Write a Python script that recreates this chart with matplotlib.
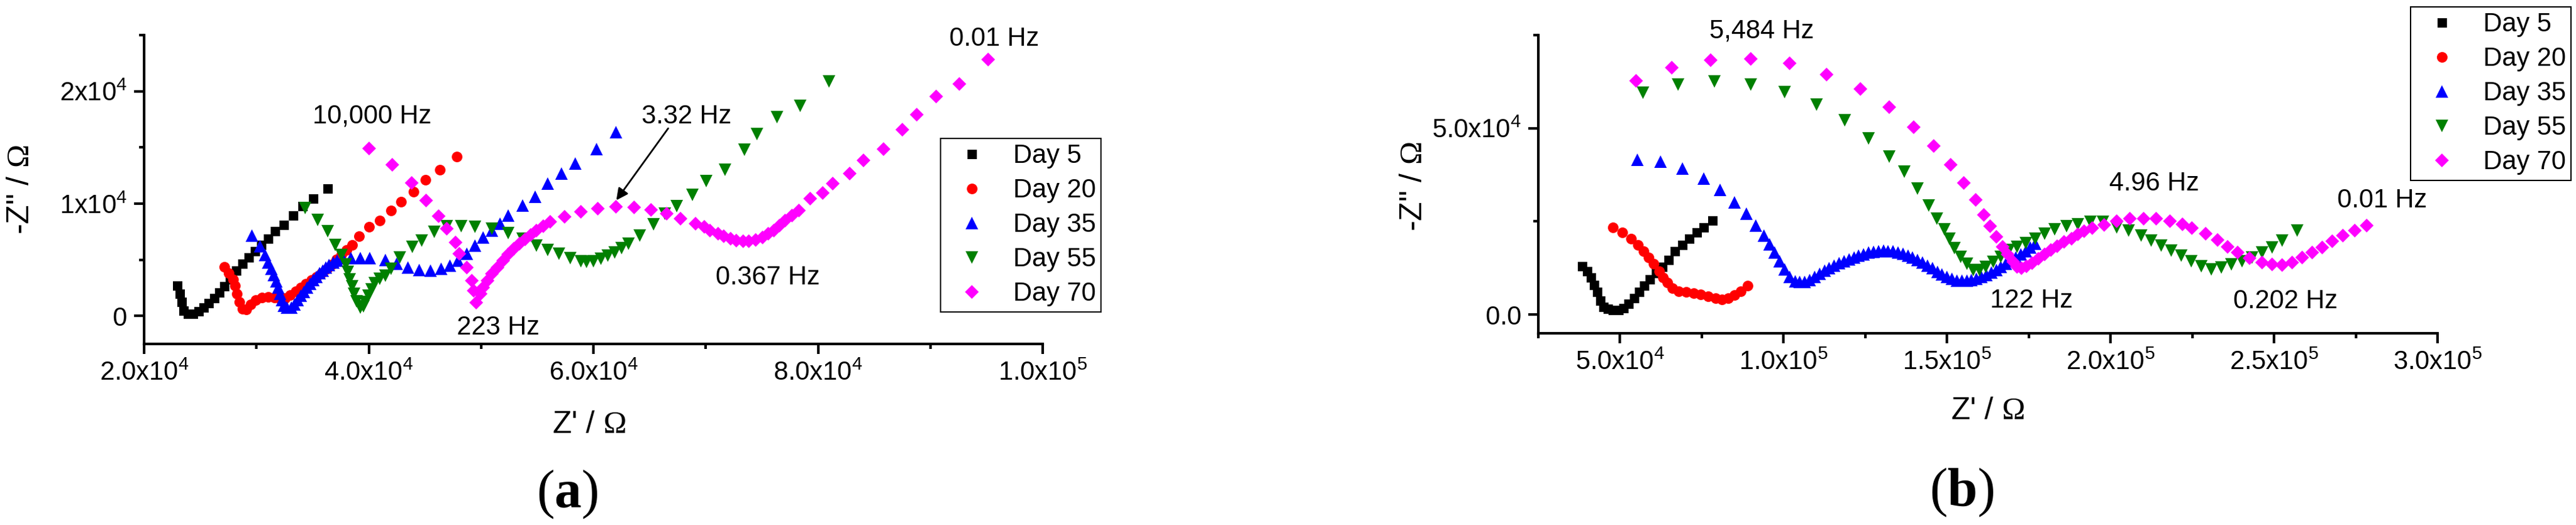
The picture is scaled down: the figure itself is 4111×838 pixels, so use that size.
import matplotlib
matplotlib.use('Agg')
import matplotlib.pyplot as plt
from matplotlib.ticker import MultipleLocator

plt.rcParams['font.family'] = ['Liberation Sans', 'DejaVu Sans']
plt.rcParams['mathtext.fontset'] = 'custom'
plt.rcParams['mathtext.rm'] = 'Liberation Sans'
plt.rcParams['mathtext.sf'] = 'Liberation Serif'
plt.rcParams['mathtext.bf'] = 'Liberation Serif:bold'

# ---------------- data, panel (a) ----------------
day5_a_x = [22940, 23160, 23350, 23530, 23900, 24370, 24840, 25300, 25760, 26230, 26690, 27160, 27630,
            28180, 28740, 29300, 29860, 30420, 31060, 31670, 32420, 33300, 34130, 35060, 36330]
day5_a_y = [2660, 1955, 1210, 465, 185, 185, 375, 745, 1117, 1580, 2050, 2610, 3260,
            4000, 4650, 5210, 5770, 6330, 6890, 7540, 8100, 8940, 9780, 10430, 11360]

day20_a_x = [27160, 27530, 27900, 28090, 28270, 28460, 28740, 29110, 29480, 29950, 30510, 31060, 31620,
             32090, 32550, 33020, 33480, 33950, 34410, 34880, 35340, 35810, 36270, 36740, 37140, 37570,
             38040, 38500, 39110, 40000, 40990, 41990, 42890, 43980, 45070, 46320, 47860]
day20_a_y = [4375, 3820, 3260, 2700, 1955, 1210, 650, 560, 1020, 1400, 1620, 1680, 1620,
             1490, 1580, 1860, 2180, 2510, 2850, 3170, 3480, 3820, 4190, 4560, 5030, 5490,
             5870, 6330, 7080, 7910, 8510, 9400, 10150, 11040, 12090, 12990, 14180]

day35_a_x = [29610, 30320, 30780, 31060, 31310, 31530, 31750, 31940, 32120, 32270, 32460, 32730, 33110,
             33390, 33670, 33950, 34230, 34510, 34780, 35060, 35340, 35620, 35900, 36180, 36460, 36830,
             37200, 37670, 38410, 39250, 40080, 41490, 42490, 43480, 44480, 45470, 46470, 47210, 47960,
             48710, 49450, 50200, 50940, 51690, 52440, 53680, 54830, 55920, 57160, 58410, 60300, 61990]
day35_a_y = [7170, 6200, 5400, 4750, 4190, 3630, 3070, 2510, 1955, 1400, 930, 745, 745,
             1020, 1400, 1770, 2140, 2510, 2850, 3170, 3480, 3780, 4030, 4280, 4530, 4750,
             4930, 5120, 5120, 5120, 5120, 4980, 4630, 4330, 4090, 4030, 4180, 4480, 4930,
             5520, 6270, 7010, 7610, 8210, 8960, 9850, 10600, 11790, 12690, 13580, 14840, 16360]

day55_a_x = [34320, 35440, 36330, 37020, 37570, 37950, 38130, 38320, 38500, 38690, 38930, 39250, 39530,
             39710, 39990, 40270, 40550, 40990, 41490, 41990, 42740, 43880, 44730, 45820, 46970, 48210,
             49450, 50950, 52440, 53680, 54930, 55920, 56920, 57910, 58910, 59400, 60000, 60650, 61270,
             61890, 62500, 63130, 64130, 65370, 66370, 67420, 68820, 70030, 71700, 73470, 74580, 76320,
             78410, 80950]
day55_a_y = [9590, 8570, 7540, 6330, 5400, 4560, 3910, 3260, 2610, 1955, 1300, 745, 840,
             1210, 1770, 2330, 2890, 3300, 3580, 4180, 5220, 6120, 6720, 7460, 7970, 7970,
             7910, 7760, 7400, 6870, 6270, 5880, 5520, 5160, 4870, 4780, 4850, 5070, 5370,
             5670, 6040, 6420, 7160, 8150, 9100, 9780, 10800, 12010, 13030, 14810, 16200, 17700,
             18720, 20900]

day70_a_x = [40000, 42090, 43830, 45120, 46220, 46960, 47710, 48060, 48710, 49200, 49350, 49550, 49950,
             50200, 50550, 50940, 51440, 51940, 52440, 52930, 53430, 53930, 54430, 54920, 55520, 56170,
             57410, 58900, 60400, 61990, 63630, 65120, 66520, 67760, 69100, 69850, 70350, 71090, 71590,
             72240, 72740, 73330, 73830, 74430, 75070, 75570, 76070, 76560, 77060, 77710, 78310, 79300,
             80400, 81290, 82790, 84030, 85830, 87500, 88790, 90520, 92580, 95150]
day70_a_y = [14930, 13430, 11850, 10300, 8870, 7760, 6510, 5520, 4330, 3130, 2240, 1190, 1940,
             2540, 3130, 3730, 4330, 4930, 5460, 5970, 6420, 6810, 7220, 7610, 8000, 8360,
             8810, 9250, 9550, 9700, 9640, 9460, 9100, 8660, 8210, 7910, 7610, 7310, 7070,
             6870, 6720, 6660, 6660, 6780, 6960, 7310, 7610, 8060, 8510, 8960, 9400, 10450,
             10960, 11790, 12690, 13820, 14860, 16590, 17930, 19550, 20670, 22800]

# ---------------- data, panel (b) ----------------
day5_b_x = [38500, 39900, 41190, 42140, 43100, 44060, 45020, 46300, 47890, 49480, 51090, 52680, 54270,
            55880, 57470, 59060, 60980, 62900, 64810, 66730, 69000, 71210, 73470, 75670, 78220]
day5_b_y = [13050, 11650, 9960, 7990, 6020, 3780, 2090, 1530, 1250, 1250, 1800, 2930, 4330,
            6020, 7700, 9390, 11080, 12760, 14740, 16980, 18660, 20350, 22040, 23450, 25240]

day20_b_x = [47890, 50770, 53310, 55560, 57280, 58760, 60350, 61940, 63220, 64500, 66090, 68010, 70250,
             72480, 74720, 76960, 79190, 81100, 83020, 84930, 86850, 89090]
day20_b_y = [23450, 22040, 20350, 18660, 16980, 15290, 13610, 11650, 9960, 8550, 7150, 6310, 6020,
             5750, 5460, 4910, 4330, 4060, 4330, 5180, 6310, 7700]

day35_b_x = [55240, 62320, 69150, 75610, 80610, 85000, 88660, 91460, 93900, 95730, 97320, 98780, 100370,
             101830, 103660, 105000, 106500, 108000, 109500, 111000, 112500, 114000, 115500, 117000,
             118500, 120000, 121500, 123000, 124500, 126000, 127500, 129000, 130500, 132000, 133500,
             135000, 136500, 138000, 139500, 141000, 142500, 144000, 145500, 147000, 148500, 150000,
             151500, 153000, 154500, 156000, 157500, 159000, 160500, 162000, 163500, 165000, 166500,
             168000, 169500, 171000, 172500, 174000, 175500, 177000]
day35_b_y = [41620, 40990, 39190, 36490, 33510, 30180, 27030, 23870, 21170, 18920, 16670, 14410, 12160,
             10090, 9010, 8800, 8850, 9350, 10050, 10900, 11750, 12500, 13150, 13750,
             14300, 14850, 15300, 15800, 16200, 16600, 16900, 17050, 17150, 17100, 16950,
             16650, 16300, 15850, 15300, 14650, 13950, 13200, 12400, 11550, 10750, 10050,
             9550, 9200, 9100, 9150, 9350, 9700, 10150, 10700, 11350, 12050, 12850,
             13700, 14550, 15400, 16250, 17100, 18000, 19000]

day55_b_x = [57070, 67680, 78900, 89880, 100370, 110120, 118660, 125980, 132320, 136950, 140860, 144330,
             146890, 149110, 150720, 152310, 154230, 156140, 158060, 159980, 161890, 164140, 166360,
             168930, 171470, 174020, 176900, 179770, 182970, 186480, 190000, 193830, 197670, 201850,
             205560, 209260, 212350, 215430, 218520, 221610, 224690, 227780, 230870, 233950, 237040,
             240130, 243210, 246300, 249380, 252470, 257160]
day55_b_y = [59460, 61710, 62610, 61710, 59640, 56310, 52070, 47300, 42340, 38290, 33780, 29350,
             25700, 22880, 20350, 17820, 15580, 13610, 11920, 11920, 12760, 14180, 15580,
             17270, 18110, 19240, 20350, 21770, 22880, 23720, 24300, 24850, 24850, 23420,
             22520, 21170, 19820, 18470, 17120, 15770, 14410, 13060, 12160, 12610, 13510,
             14410, 15320, 16670, 18020, 19820, 22520]

day70_b_x = [54880, 65850, 77680, 89880, 101830, 113170, 123410, 132320, 139880, 145980, 151100, 155120,
             158690, 161250, 163170, 165090, 167000, 168590, 170190, 171470, 172750, 174360, 175940,
             177860, 179770, 181690, 183610, 185850, 188090, 190000, 191920, 194470, 197980, 201810,
             205950, 210110, 213950, 218080, 221920, 224790, 229010, 232720, 235800, 238890, 242590,
             246300, 249380, 252470, 255560, 258640, 261730, 264820, 267900, 270990, 274690, 278400]
day70_b_y = [62790, 66210, 68290, 68650, 67390, 64420, 60540, 55680, 50270, 45320, 40270, 35320,
             30750, 26820, 23720, 20920, 18110, 16140, 14180, 12760, 12490, 13050, 13890,
             15020, 16140, 17270, 18390, 19510, 20350, 21480, 22320, 23170, 24010, 25140,
             25700, 25700, 25700, 25140, 24290, 23170, 21800, 20000, 18200, 16670, 15140,
             13960, 13510, 13330, 13960, 15320, 16670, 18020, 19640, 21170, 22520, 23870]

labels = ['Day 5', 'Day 20', 'Day 35', 'Day 55', 'Day 70']

# ticks
a_xticks = [20000, 40000, 60000, 80000, 100000]
a_xticklabels = ['2.0x10^{4}', '4.0x10^{4}', '6.0x10^{4}', '8.0x10^{4}', '1.0x10^{5}']
a_yticks = [0, 10000, 20000]
a_yticklabels = ['0', '1x10^{4}', '2x10^{4}']
b_xticks = [50000, 100000, 150000, 200000, 250000, 300000]
b_xticklabels = ['5.0x10^{4}', '1.0x10^{5}', '1.5x10^{5}', '2.0x10^{5}', '2.5x10^{5}', '3.0x10^{5}']
b_yticks = [0, 50000]
b_yticklabels = ['0.0', '5.0x10^{4}']

# frequency notes: (text, x, y)
a_notes = [('10,000 Hz', 40300, 17800), ('3.32 Hz', 68300, 17770), ('0.367 Hz', 75510, 3410),
           ('223 Hz', 51520, -1060), ('0.01 Hz', 95700, 24640)]
b_notes = [('5,484 Hz', 93300, 76100), ('122 Hz', 175880, 3780), ('4.96 Hz', 213340, 35140),
           ('0.01 Hz', 283140, 30630), ('0.202 Hz', 253480, 3600)]

markers = ['s', 'o', '^', 'v', 'D']
colors = ['#000000', '#ff0000', '#0000ff', '#008000', '#ff00ff']
msizes = [10.8, 12.2, 14.4, 14.4, 11.5]

W, H = 4111, 838
fig = plt.figure(figsize=(W / 100, H / 100), dpi=100)


def px_rect(l, t, r, b):
    return [l / W, 1 - b / H, (r - l) / W, (b - t) / H]


def style_axes(ax, xlim, ylim, xt, xtl, yt, ytl, xminor, yminor):
    ax.set_xlim(*xlim)
    ax.set_ylim(*ylim)
    ax.set_xticks(xt)
    ax.set_xticklabels([r'$\mathregular{%s}$' % s for s in xtl])
    ax.set_yticks(yt)
    ax.set_yticklabels([r'$\mathregular{%s}$' % s for s in ytl])
    ax.xaxis.set_minor_locator(MultipleLocator(xminor))
    ax.yaxis.set_minor_locator(MultipleLocator(yminor))
    for s in ['top', 'right']:
        ax.spines[s].set_visible(False)
    for s in ['left', 'bottom']:
        ax.spines[s].set_linewidth(3)
    ax.tick_params(which='major', direction='out', length=11.5, width=3, labelsize=30, pad=8)
    ax.tick_params(which='minor', direction='out', length=6, width=3)


def draw_panel(ax, xs, ys, notes, leg_left, leg_top):
    handles = []
    for x, y, m, c, ms in zip(xs, ys, markers, colors, msizes):
        h, = ax.plot(x, y, linestyle='none', marker=m, color=c, markersize=ms, markeredgewidth=0)
        handles.append(h)
    for txt, x, y in notes:
        ax.text(x, y, txt, fontsize=30, ha='center', va='center')
    leg = ax.legend(handles, labels, loc='upper left', bbox_to_anchor=(leg_left / W, 1 - leg_top / H),
                    bbox_transform=fig.transFigure, borderaxespad=0, fancybox=False, framealpha=1,
                    edgecolor='black', fontsize=30, handlelength=2.0, handletextpad=0.58,
                    borderpad=0.2, labelspacing=0.36, numpoints=1)
    leg.get_frame().set_linewidth(1.5)


ax_a = fig.add_axes(px_rect(230, 56, 1664, 549))
draw_panel(ax_a, [day5_a_x, day20_a_x, day35_a_x, day55_a_x, day70_a_x],
           [day5_a_y, day20_a_y, day35_a_y, day55_a_y, day70_a_y], a_notes, 1501, 221)
style_axes(ax_a, (20000, 100000), (-2500, 25000), a_xticks, a_xticklabels, a_yticks, a_yticklabels, 10000, 5000)
ax_a.annotate('', xy=(61950, 10170), xytext=(66750, 16820),
              arrowprops=dict(arrowstyle='-|>', color='black', lw=2, mutation_scale=28))

ax_b = fig.add_axes(px_rect(2455, 56, 3890, 532))
draw_panel(ax_b, [day5_b_x, day20_b_x, day35_b_x, day55_b_x, day70_b_x],
           [day5_b_y, day20_b_y, day35_b_y, day55_b_y, day70_b_y], b_notes, 3847, 11)
style_axes(ax_b, (25000, 300000), (-5000, 75000), b_xticks, b_xticklabels, b_yticks, b_yticklabels, 25000, 25000)

# axis titles and panel letters
ylab = '-Z" / $\\mathsf{\\Omega}$'
xlab = "Z' / $\\mathsf{\\Omega}$"
fig.text(33 / W, 1 - 302 / H, ylab, rotation=90, ha='center', va='center', fontsize=36)
fig.text(2256 / W, 1 - 297 / H, ylab, rotation=90, ha='center', va='center', fontsize=36)
fig.text(940 / W, 1 - 678 / H, xlab, ha='center', va='center', fontsize=36)
fig.text(3172 / W, 1 - 656 / H, xlab, ha='center', va='center', fontsize=36)
fig.text(905 / W, 1 - 789 / H, r'($\mathbf{a}$)', family='Liberation Serif', fontsize=62, ha='center', va='center')
fig.text(3131 / W, 1 - 786 / H, r'($\mathbf{b}$)', family='Liberation Serif', fontsize=62, ha='center', va='center')

fig.savefig('out.png', dpi=100)
